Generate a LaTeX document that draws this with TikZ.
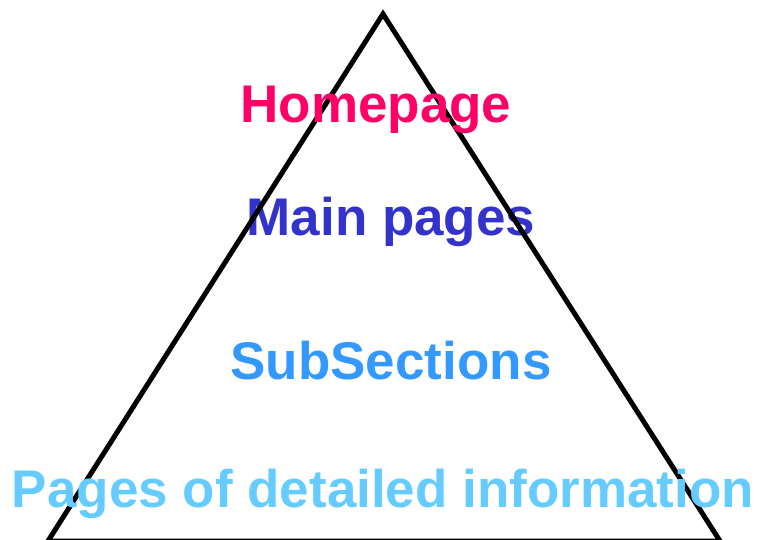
\documentclass[tikz,border=0pt]{standalone}
\usepackage{fontspec}
\setmainfont{Liberation Sans}
\usepackage{tikz}
\usetikzlibrary{positioning}

\begin{document}
\begin{tikzpicture}
		[
			x = 1pt, y = -1pt,
			level/.style = {anchor = base, inner sep = 0cm, font = \fontsize{53}{60}\selectfont\bfseries},
			pyramid/.style = {draw = black, line width = 5pt, line join = miter},
		]
			%
			\useasboundingbox (0,0) rectangle (758,540);
			%
			\coordinate (apex) at (383,14);
			\coordinate (left) at (48,541);
			\coordinate (right) at (720,541);
			%
			\node (mainpages) [level, text = {rgb,255:red,51;green,51;blue,204}] at (391,236) {Main pages};
			%
			\draw [pyramid] (apex) -- (right) -- (left) -- cycle;
			%
			\node (homepage) [level, text = {rgb,255:red,255;green,0;blue,102}] at (376,123) {Homepage};
			\node (subsections) [level, text = {rgb,255:red,51;green,153;blue,255}] at (391,379) {SubSections};
			\node (detailed) [level, text = {rgb,255:red,102;green,204;blue,255}] at (383,507) {Pages of detailed information};
			%
		\end{tikzpicture}
\end{document}
